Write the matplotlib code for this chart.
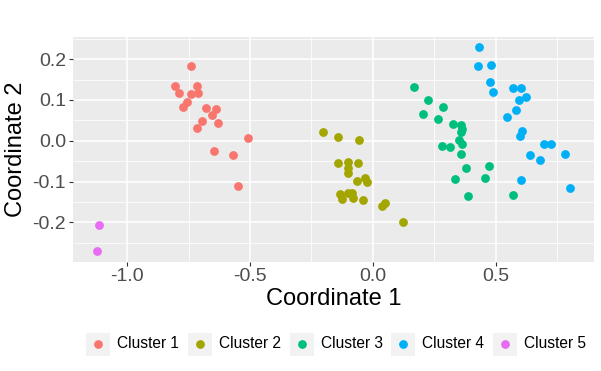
import numpy as np
import matplotlib
matplotlib.use("Agg")
import matplotlib.pyplot as plt
from matplotlib.patches import Rectangle
from matplotlib.lines import Line2D

plt.rcParams['font.family'] = ['Liberation Sans', 'DejaVu Sans']

# cluster coordinates
c1_x = [-0.740, -0.805, -0.717, -0.787, -0.741, -0.713, -0.757, -0.771, -0.679,
        -0.638, -0.656, -0.696, -0.629, -0.717, -0.508, -0.646, -0.570, -0.548]
c1_y = [0.183, 0.134, 0.134, 0.118, 0.114, 0.116, 0.094, 0.083, 0.081,
        0.077, 0.063, 0.049, 0.043, 0.031, 0.006, -0.026, -0.035, -0.111]

c2_x = [-0.204, -0.143, -0.055, -0.140, -0.099, -0.059, -0.103, -0.102, -0.065, -0.031,
        -0.022, -0.133, -0.099, -0.086, -0.126, -0.079, -0.041, 0.037, 0.050, 0.121]
c2_y = [0.021, 0.010, 0.003, -0.055, -0.051, -0.054, -0.068, -0.080, -0.098, -0.092,
        -0.100, -0.131, -0.127, -0.129, -0.144, -0.141, -0.145, -0.159, -0.153, -0.199]

c3_x = [0.167, 0.225, 0.204, 0.287, 0.267, 0.327, 0.357, 0.364, 0.357, 0.349,
        0.364, 0.281, 0.316, 0.357, 0.381, 0.474, 0.336, 0.457, 0.388, 0.571]
c3_y = [0.131, 0.099, 0.065, 0.083, 0.054, 0.041, 0.038, 0.029, 0.022, 0.002,
        -0.009, -0.012, -0.015, -0.033, -0.066, -0.062, -0.094, -0.091, -0.136, -0.132]

c4_x = [0.432, 0.426, 0.479, 0.475, 0.490, 0.570, 0.604, 0.623, 0.594, 0.581,
        0.548, 0.608, 0.600, 0.697, 0.726, 0.638, 0.680, 0.780, 0.603, 0.803]
c4_y = [0.230, 0.184, 0.186, 0.143, 0.119, 0.130, 0.130, 0.106, 0.100, 0.075,
        0.059, 0.024, 0.012, -0.008, -0.008, -0.034, -0.048, -0.033, -0.097, -0.115]

c5_x = [-1.113, -1.124]
c5_y = [-0.207, -0.271]

labels = ['Cluster 1', 'Cluster 2', 'Cluster 3', 'Cluster 4', 'Cluster 5']
colors = ['#F8766D', '#A3A500', '#00BF7D', '#00B0F6', '#E76BF3']
xs = [c1_x, c2_x, c3_x, c4_x, c5_x]
ys = [c1_y, c2_y, c3_y, c4_y, c5_y]

fig = plt.figure(figsize=(6.01, 3.71), dpi=100)
ax = fig.add_axes([73 / 601, 1 - 261.5 / 371, 521 / 601, 224.8 / 371])
ax.set_facecolor('#EBEBEB')

for x, y, c in zip(xs, ys, colors):
    ax.scatter(x, y, s=40, color=c, linewidths=0, zorder=3)

ax.set_xlim(-1.22, 0.90)
ax.set_ylim(-0.296, 0.255)
ax.set_xticks([-1.0, -0.5, 0.0, 0.5])
ax.set_xticklabels(['-1.0', '-0.5', '0.0', '0.5'])
ax.set_yticks([-0.2, -0.1, 0.0, 0.1, 0.2])
ax.set_yticklabels(['-0.2', '-0.1', '0.0', '0.1', '0.2'])
ax.set_xticks([-0.75, -0.25, 0.25, 0.75], minor=True)
ax.set_yticks([-0.25, -0.15, -0.05, 0.05, 0.15, 0.25], minor=True)
ax.grid(which='major', color='white', linewidth=1.1)
ax.grid(which='minor', color='white', linewidth=0.55)
ax.set_axisbelow(True)
for s in ax.spines.values():
    s.set_visible(False)
ax.tick_params(which='major', length=3, width=0.8, color='#333333',
               labelsize=14, labelcolor='#4D4D4D', pad=2)
ax.tick_params(which='minor', length=0)

ax.set_xlabel('Coordinate 1', fontsize=17, labelpad=2)
ax.set_ylabel('Coordinate 2', fontsize=17, labelpad=4)

# legend at the bottom
box_x = [86, 188, 290, 391, 493]
box_w, box_h = 24, 23
yc = 344
for bx, c, lab in zip(box_x, colors, labels):
    fig.patches.append(Rectangle((bx / 601, 1 - (yc + box_h / 2) / 371),
                                 box_w / 601, box_h / 371,
                                 transform=fig.transFigure, facecolor='#F2F2F2',
                                 edgecolor='none'))
    fig.lines.append(Line2D([(bx + box_w / 2) / 601], [1 - yc / 371],
                            transform=fig.transFigure, marker='o', markersize=6.3,
                            markerfacecolor=c, markeredgewidth=0, linestyle='none'))
    fig.text((bx + box_w + 7) / 601, 1 - yc / 371, lab, fontsize=11.2,
             va='center', ha='left', color='black')

fig.savefig('out.png', dpi=100)
